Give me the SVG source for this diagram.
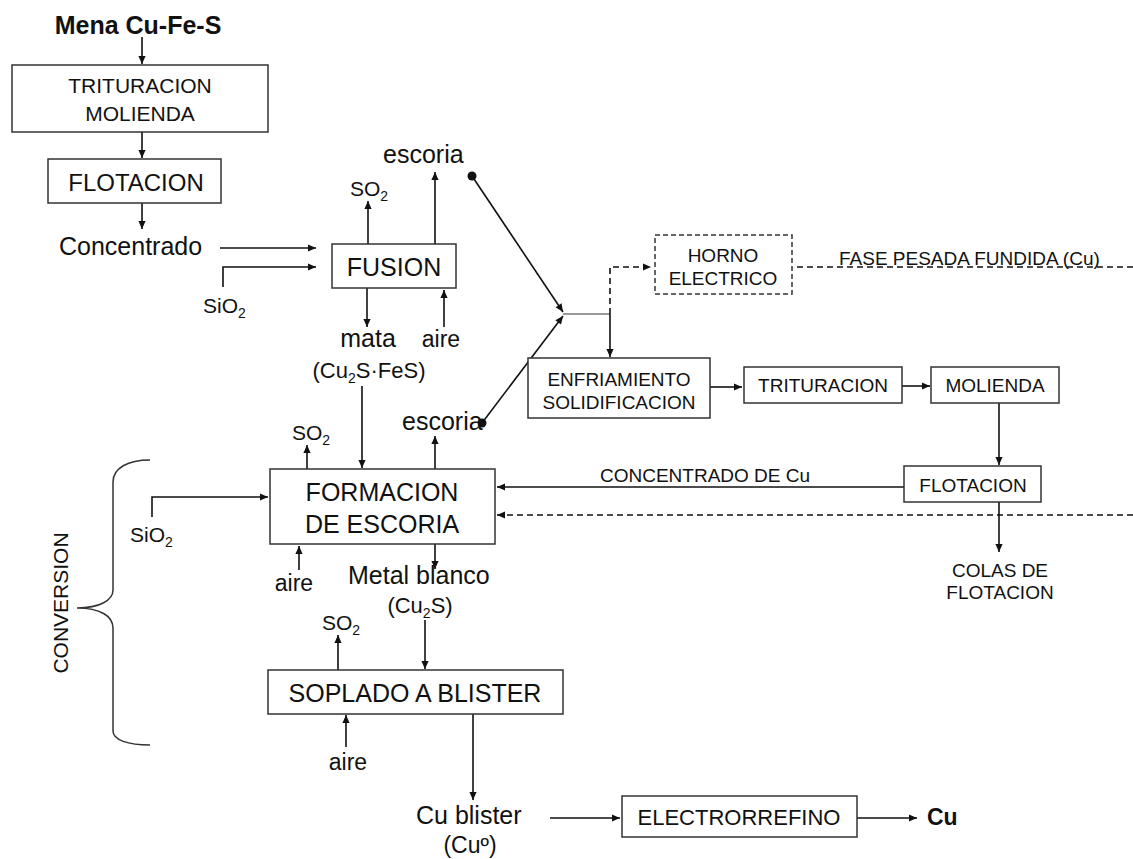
<svg xmlns="http://www.w3.org/2000/svg" width="1133" height="859" viewBox="0 0 1133 859">
<style>
text{font-family:"Liberation Sans",Arial,sans-serif;fill:#111}
.c{text-anchor:middle}
.box{fill:#fff;stroke:#333;stroke-width:1.5}
.dbox{fill:#fff;stroke:#333;stroke-width:1.5;stroke-dasharray:5,3}
.ln{fill:none;stroke:#111;stroke-width:1.6}
.dl{fill:none;stroke:#111;stroke-width:1.6;stroke-dasharray:6,4}
.s25{font-size:25px}.s24{font-size:24px}.s23{font-size:23px}.s22{font-size:22px}.s21{font-size:21px}.s19{font-size:19px}
.sub{font-size:14px}
</style>
<defs>
<marker id="ah" viewBox="0 0 10 10" refX="10" refY="5" markerWidth="9" markerHeight="8" markerUnits="userSpaceOnUse" orient="auto">
<path d="M0,0.5 L10,5 L0,9.5 z" fill="#111"/>
</marker>
</defs>
<rect width="1133" height="859" fill="#fff"/>

<g id="connectors">
<path class="ln" d="M142,37 V64" marker-end="url(#ah)"/>
<path class="ln" d="M142,132 V158" marker-end="url(#ah)"/>
<path class="ln" d="M142,203 V229" marker-end="url(#ah)"/>
<path class="ln" d="M220,248 H316" marker-end="url(#ah)"/>
<path class="ln" d="M223,287 V267 H316" marker-end="url(#ah)"/>
<path class="ln" d="M368,244 V201" marker-end="url(#ah)"/>
<path class="ln" d="M435,244 V172" marker-end="url(#ah)"/>
<circle cx="472" cy="176" r="4.5" fill="#111"/>
<path class="ln" d="M472,176 L563,312" marker-end="url(#ah)"/>
<path class="ln" d="M367,288 V327" marker-end="url(#ah)"/>
<path class="ln" d="M444,327 V290" marker-end="url(#ah)"/>
<path class="ln" d="M362,386 V468" marker-end="url(#ah)"/>
<circle cx="482" cy="423" r="4.5" fill="#111"/>
<path class="ln" d="M482,423 L563,316" marker-end="url(#ah)"/>
<path fill="none" stroke="#999" stroke-width="2" d="M563,314 H610"/>
<path class="dl" d="M610,314 V267 H651" marker-end="url(#ah)"/>
<path class="ln" d="M610,314 V357" marker-end="url(#ah)"/>
<path class="dl" d="M797,267 H1133"/>
<path class="ln" d="M710,387 H742" marker-end="url(#ah)"/>
<path class="ln" d="M902,386 H930" marker-end="url(#ah)"/>
<path class="ln" d="M999,403 V465" marker-end="url(#ah)"/>
<path class="ln" d="M904,487 H497" marker-end="url(#ah)"/>
<path class="dl" d="M1133,515 H497" marker-end="url(#ah)"/>
<path class="ln" d="M999,502 V552" marker-end="url(#ah)"/>
<path class="ln" d="M307,469 V445" marker-end="url(#ah)"/>
<path class="ln" d="M435,483 V436" marker-end="url(#ah)"/>
<path class="ln" d="M152,517 V497 H268" marker-end="url(#ah)"/>
<path class="ln" d="M299,570 V546" marker-end="url(#ah)"/>
<path class="ln" d="M435,544 V569" marker-end="url(#ah)"/>
<path class="ln" d="M338,670 V635" marker-end="url(#ah)"/>
<path class="ln" d="M425,620 V669" marker-end="url(#ah)"/>
<path class="ln" d="M346,747 V715" marker-end="url(#ah)"/>
<path class="ln" d="M473,714 V800" marker-end="url(#ah)"/>
<path class="ln" d="M550,818 H620" marker-end="url(#ah)"/>
<path class="ln" d="M857,818 H917" marker-end="url(#ah)"/>
<path fill="none" stroke="#333" stroke-width="1.5" d="M150,460 C128,460 113,468 113,482 V590 C113,600 100,608 77,608 C100,608 113,616 113,628 V731 C113,740 128,745 150,745"/>
</g>

<g id="labels">
<text class="c s25" x="138" y="34" font-weight="bold">Mena Cu-Fe-S</text>
<text class="s25" x="59" y="255">Concentrado</text>
<text class="s21" x="203" y="313">SiO<tspan class="sub" dy="5">2</tspan></text>
<text class="s21" x="350" y="196">SO<tspan class="sub" dy="5">2</tspan></text>
<text class="s25" x="383" y="163">escoria</text>
<text class="c s25" x="368" y="347">mata</text>
<text class="c s23" x="441" y="347">aire</text>
<text class="c s22" x="369" y="378">(Cu<tspan class="sub" dy="5">2</tspan><tspan dy="-5">S·FeS)</tspan></text>
<text class="s25" x="402" y="430">escoria</text>
<text class="s21" x="292" y="440">SO<tspan class="sub" dy="5">2</tspan></text>
<text class="s21" x="130" y="542">SiO<tspan class="sub" dy="5">2</tspan></text>
<text class="c s23" x="294" y="591">aire</text>
<text class="s25" x="348" y="584">Metal blanco</text>
<text class="c s22" x="420" y="613">(Cu<tspan class="sub" dy="5">2</tspan><tspan dy="-5">S)</tspan></text>
<text class="s21" x="322" y="630">SO<tspan class="sub" dy="5">2</tspan></text>
<text class="c s23" x="348" y="770">aire</text>
<text class="s25" x="416" y="824">Cu blister</text>
<text class="c s23" x="470" y="853">(Cuº)</text>
<text class="s23" x="927" y="825" font-weight="bold">Cu</text>
<text class="c s21" transform="translate(68,603) rotate(-90)">CONVERSION</text>
<text class="s19" x="839" y="265">FASE PESADA FUNDIDA (Cu)</text>
<text class="s19" x="600" y="482">CONCENTRADO DE Cu</text>
<text class="c s19" x="1000" y="577">COLAS DE</text>
<text class="c s19" x="1000" y="599">FLOTACION</text>
</g>

<g id="n-trituracion-molienda">
<rect class="box" x="12" y="65" width="256" height="67"/>
<text class="c s21" x="140" y="93">TRITURACION</text>
<text class="c s21" x="140" y="121">MOLIENDA</text>
</g>
<g id="n-flotacion">
<rect class="box" x="48" y="159" width="173" height="44"/>
<text class="c s24" x="136" y="191">FLOTACION</text>
</g>
<g id="n-fusion">
<rect class="box" x="332" y="244" width="124" height="44"/>
<text class="c s25" x="394" y="276">FUSION</text>
</g>
<g id="n-formacion">
<rect class="box" x="270" y="469" width="225" height="75"/>
<text class="c s25" x="382" y="501">FORMACION</text>
<text class="c s25" x="382" y="533">DE ESCORIA</text>
</g>
<g id="n-soplado">
<rect class="box" x="268" y="670" width="295" height="44"/>
<text class="c s25" x="415" y="702">SOPLADO A BLISTER</text>
</g>
<g id="n-electrorrefino">
<rect class="box" x="622" y="796" width="235" height="41"/>
<text class="c s22" x="739" y="825">ELECTRORREFINO</text>
</g>
<g id="n-horno">
<rect class="dbox" x="655" y="235" width="137" height="59"/>
<text class="c s19" x="723" y="262">HORNO</text>
<text class="c s19" x="723" y="285">ELECTRICO</text>
</g>
<g id="n-enfriamiento">
<rect class="box" x="528" y="358" width="182" height="60"/>
<text class="c s19" x="619" y="386">ENFRIAMIENTO</text>
<text class="c s19" x="619" y="409">SOLIDIFICACION</text>
</g>
<g id="n-trituracion2">
<rect class="box" x="744" y="367" width="158" height="36"/>
<text class="c s19" x="823" y="392">TRITURACION</text>
</g>
<g id="n-molienda2">
<rect class="box" x="931" y="367" width="128" height="36"/>
<text class="c s19" x="995" y="392">MOLIENDA</text>
</g>
<g id="n-flotacion2">
<rect class="box" x="904" y="466" width="137" height="36"/>
<text class="c s19" x="973" y="492">FLOTACION</text>
</g>
</svg>
